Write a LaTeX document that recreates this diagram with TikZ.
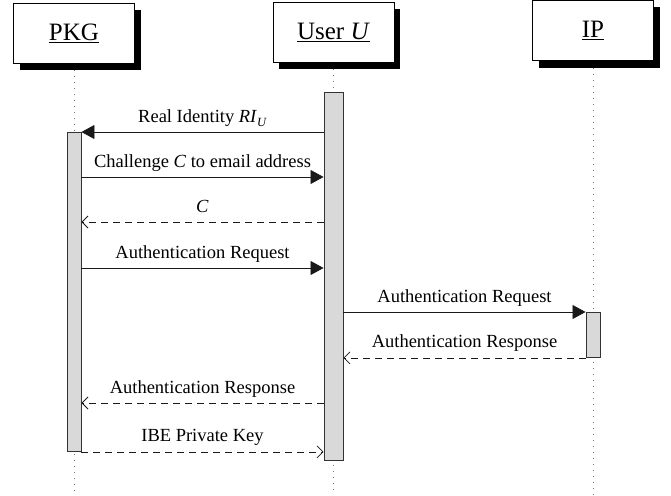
\documentclass[tikz,border=0pt]{standalone}
\usepackage{fontspec}
\setmainfont{Liberation Serif}
\usetikzlibrary{arrows.meta,shadows}
\begin{document}
\begin{tikzpicture}[x=1pt,y=-1pt,
 actor/.style={draw=black,fill=white,line width=0.8pt,minimum width=121pt,minimum height=60pt,inner sep=0pt,
   font=\fontsize{25}{28}\selectfont,
   drop shadow={shadow xshift=6pt,shadow yshift=-7pt,fill=black,opacity=1}},
 bar/.style={draw=black!80,fill=black!15,line width=0.9pt,inner sep=0pt,anchor=north},
 life/.style={draw=black!55,line width=0.9pt,dash pattern=on 1pt off 5pt},
 msg/.style={draw=black!90,line width=0.8pt,-{Triangle[length=13pt,width=14pt]}},
 rmsg/.style={draw=black!90,line width=0.8pt,dash pattern=on 7pt off 5pt,
   -{Straight Barb[length=6pt,width=12pt,line width=0.8pt]}},
 lbl/.style={anchor=base,font=\fontsize{18.5}{20}\selectfont,inner sep=0pt,yshift=10pt}
]
\useasboundingbox (0,0) rectangle (671,495);
% actors
\node[actor] (pkg) at (74,33) {\underline{PKG}};
\node[actor] (user) at (333.5,32) {\underline{User \textit{U}}};
\node[actor] (ip) at (593,30.5) {\underline{IP}};
% lifeline ends
\coordinate (pend) at (74,495);
\coordinate (uend) at (333,495);
\coordinate (iend) at (593,495);
\draw[life] ([yshift=-7pt]pkg.south) -- (pend);
\draw[life] ([xshift=-0.5pt,yshift=-7pt]user.south) -- (uend);
\draw[life] ([yshift=-7pt]ip.south) -- (iend);
% activation bars
\node[bar,minimum width=14pt,minimum height=319pt] (pbar) at (74,132) {};
\node[bar,minimum width=19pt,minimum height=368pt] (ubar) at (333.5,92) {};
\node[bar,minimum width=14pt,minimum height=45pt] (ibar) at (593,312) {};
% messages
\draw[msg] (ubar.west |- pbar.north) -- node[lbl,midway] {Real Identity \textit{RI}\raisebox{-0.22em}{\fontsize{12.5}{13}\selectfont\textit{U}}} (pbar.north east);
\draw[msg] (pbar.east |- 0,177) -- node[lbl,midway] {Challenge \textit{C} to email address} (ubar.west |- 0,177);
\draw[rmsg] (ubar.west |- 0,222) -- node[lbl,midway] {\textit{C}} (pbar.east |- 0,222);
\draw[msg] (pbar.east |- 0,268) -- node[lbl,midway] {Authentication Request} (ubar.west |- 0,268);
\draw[msg] (ubar.east |- ibar.north) -- node[lbl,midway] {Authentication Request} (ibar.north west);
\draw[rmsg] (ibar.south west) -- node[lbl,midway] {Authentication Response} (ubar.east |- ibar.south);
\draw[rmsg] (ubar.west |- 0,403) -- node[lbl,midway] {Authentication Response} (pbar.east |- 0,403);
\draw[rmsg] (pbar.south east) -- node[lbl,midway] {IBE Private Key} (ubar.west |- pbar.south);
\end{tikzpicture}
\end{document}
